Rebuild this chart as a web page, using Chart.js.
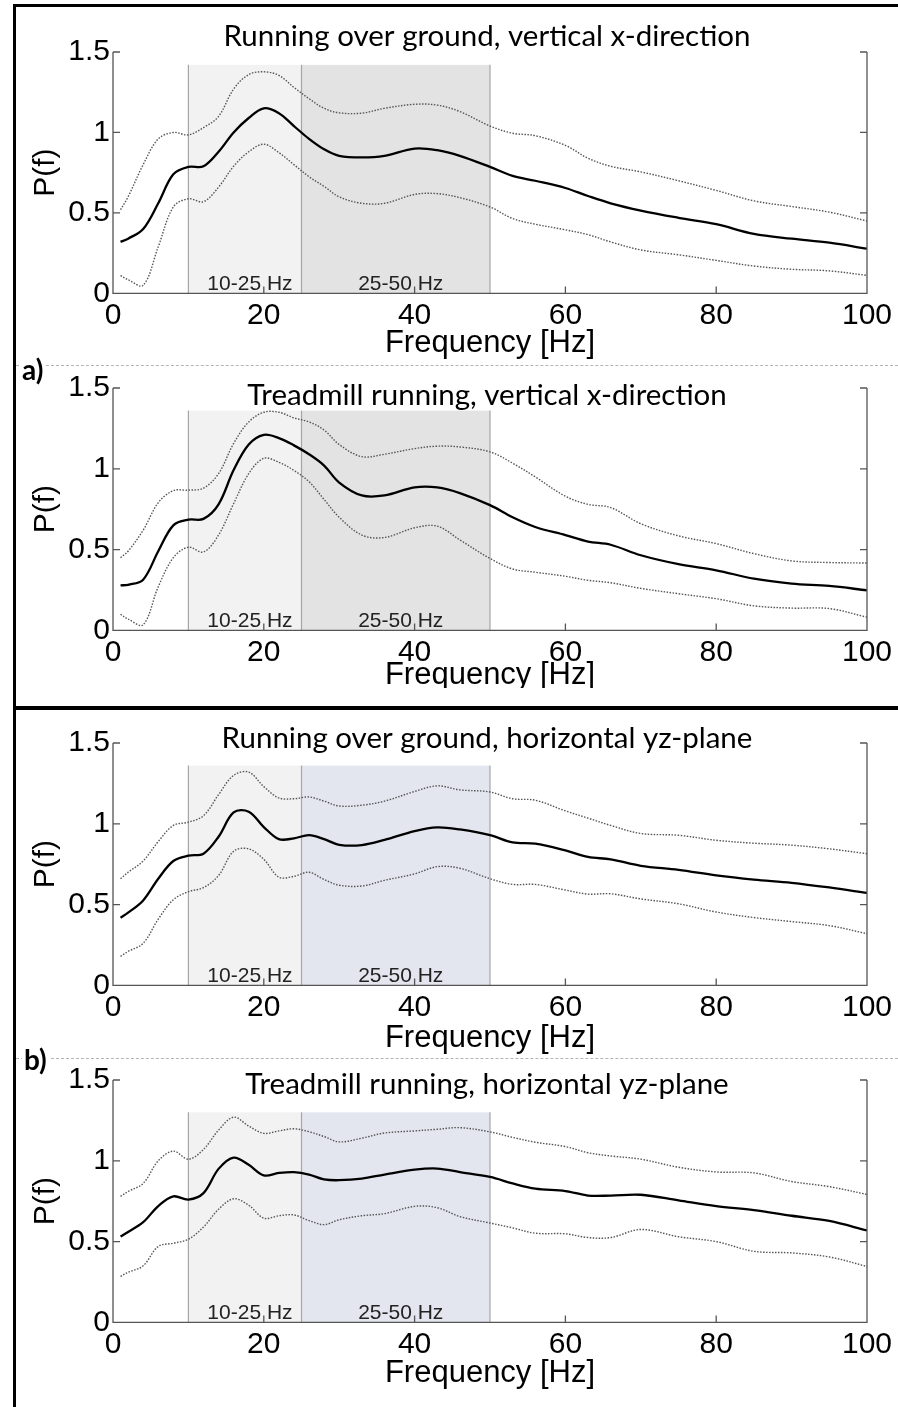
<!DOCTYPE html>
<html>
<head>
<meta charset="utf-8">
<title>P(f) spectra</title>
<script src="https://cdn.jsdelivr.net/npm/chart.js@4.4.1/dist/chart.umd.min.js"></script>
<style>
  html, body { margin: 0; padding: 0; background: #fff; }
  #page { position: relative; width: 898px; height: 1407px; overflow: hidden; background: #fff; }
  .wrap { position: absolute; left: 0; width: 898px; overflow: hidden; }
  .wrap canvas { position: absolute; left: 0; top: 0; }
  .rule { position: absolute; background: #000; }
  .dash { position: absolute; left: 16px; right: 0; height: 0; border-top: 1px dashed #b4b4b4; }
  .tag { position: absolute; font: bold 28px Lato, sans-serif; line-height: 28px; color: #000; background: #fff; padding: 0 2px; }
</style>
</head>
<body>
<div id="page">
  <div class="dash" style="top:365px"></div>
  <div class="dash" style="top:1058px"></div>
  <div class="tag" style="left:20px; top:355px">a)</div>
  <div class="tag" style="left:22px; top:1045px">b)</div>
</div>
<script>
// frequency grid shared by every curve [Hz]
const freq = [1, 2, 4, 6, 8, 10, 12, 14, 16, 18, 20, 22, 24, 26, 28, 30, 33, 36, 40, 43, 46, 50, 53, 56, 60, 63, 66, 70, 75, 80, 85, 90, 95, 100];

// running over ground, vertical x-direction
const ogXMean  = [0.32, 0.34, 0.40, 0.56, 0.74, 0.786, 0.79, 0.88, 1.0, 1.09, 1.15, 1.12, 1.04, 0.96, 0.895, 0.855, 0.845, 0.855, 0.90, 0.89, 0.855, 0.786, 0.73, 0.70, 0.655, 0.605, 0.56, 0.515, 0.47, 0.43, 0.37, 0.34, 0.315, 0.278];
const ogXUpper = [0.52, 0.60, 0.80, 0.96, 1.0, 0.985, 1.03, 1.10, 1.27, 1.36, 1.377, 1.355, 1.28, 1.21, 1.15, 1.122, 1.12, 1.15, 1.175, 1.17, 1.13, 1.04, 0.995, 0.98, 0.92, 0.84, 0.79, 0.755, 0.70, 0.64, 0.575, 0.54, 0.505, 0.45];
const ogXLower = [0.11, 0.085, 0.05, 0.29, 0.537, 0.588, 0.57, 0.66, 0.79, 0.88, 0.927, 0.875, 0.80, 0.725, 0.665, 0.60, 0.56, 0.56, 0.615, 0.62, 0.595, 0.537, 0.465, 0.43, 0.395, 0.365, 0.32, 0.27, 0.24, 0.205, 0.17, 0.15, 0.14, 0.112];

// treadmill running, vertical x-direction
const tmXMean  = [0.279, 0.282, 0.314, 0.49, 0.65, 0.685, 0.69, 0.78, 0.992, 1.15, 1.21, 1.19, 1.145, 1.09, 1.02, 0.915, 0.835, 0.835, 0.885, 0.885, 0.85, 0.775, 0.70, 0.64, 0.59, 0.55, 0.53, 0.465, 0.41, 0.372, 0.32, 0.29, 0.275, 0.248];
const tmXUpper = [0.45, 0.49, 0.62, 0.79, 0.865, 0.868, 0.88, 0.97, 1.157, 1.29, 1.35, 1.35, 1.315, 1.29, 1.24, 1.15, 1.075, 1.09, 1.125, 1.14, 1.135, 1.105, 1.035, 0.95, 0.83, 0.78, 0.76, 0.66, 0.585, 0.537, 0.475, 0.43, 0.42, 0.417];
const tmXLower = [0.10, 0.07, 0.035, 0.27, 0.45, 0.515, 0.485, 0.59, 0.785, 0.97, 1.065, 1.04, 0.99, 0.92, 0.81, 0.70, 0.59, 0.575, 0.635, 0.645, 0.56, 0.445, 0.38, 0.36, 0.335, 0.31, 0.295, 0.26, 0.227, 0.196, 0.152, 0.138, 0.135, 0.082];

// running over ground, horizontal yz-plane
const ogYzMean  = [0.419, 0.45, 0.526, 0.66, 0.77, 0.803, 0.815, 0.92, 1.07, 1.075, 0.98, 0.905, 0.91, 0.93, 0.905, 0.87, 0.868, 0.90, 0.955, 0.978, 0.965, 0.93, 0.885, 0.877, 0.835, 0.795, 0.78, 0.74, 0.715, 0.681, 0.655, 0.635, 0.606, 0.572];
const ogYzUpper = [0.66, 0.70, 0.77, 0.89, 0.99, 1.01, 1.05, 1.18, 1.30, 1.32, 1.23, 1.16, 1.155, 1.166, 1.14, 1.11, 1.115, 1.14, 1.20, 1.235, 1.21, 1.197, 1.155, 1.146, 1.08, 1.035, 0.99, 0.94, 0.929, 0.898, 0.88, 0.868, 0.845, 0.815];
const ogYzLower = [0.18, 0.21, 0.26, 0.41, 0.53, 0.58, 0.605, 0.68, 0.83, 0.845, 0.78, 0.67, 0.675, 0.70, 0.655, 0.62, 0.615, 0.65, 0.69, 0.735, 0.725, 0.66, 0.625, 0.625, 0.59, 0.565, 0.567, 0.535, 0.505, 0.454, 0.42, 0.395, 0.37, 0.32];

// treadmill running, horizontal yz-plane
const tmYzMean  = [0.532, 0.56, 0.62, 0.72, 0.78, 0.76, 0.80, 0.95, 1.02, 0.975, 0.91, 0.925, 0.93, 0.915, 0.885, 0.88, 0.89, 0.915, 0.945, 0.952, 0.93, 0.90, 0.86, 0.828, 0.813, 0.785, 0.785, 0.79, 0.755, 0.72, 0.695, 0.66, 0.628, 0.569];
const tmYzUpper = [0.78, 0.81, 0.86, 1.0, 1.06, 1.01, 1.07, 1.19, 1.27, 1.215, 1.17, 1.185, 1.198, 1.18, 1.15, 1.117, 1.14, 1.172, 1.185, 1.195, 1.205, 1.179, 1.145, 1.115, 1.088, 1.05, 1.03, 1.01, 0.96, 0.931, 0.925, 0.872, 0.84, 0.792];
const tmYzLower = [0.285, 0.31, 0.35, 0.47, 0.49, 0.515, 0.59, 0.70, 0.765, 0.725, 0.645, 0.66, 0.665, 0.63, 0.605, 0.635, 0.66, 0.673, 0.718, 0.71, 0.655, 0.615, 0.585, 0.552, 0.548, 0.525, 0.525, 0.575, 0.53, 0.50, 0.44, 0.43, 0.405, 0.346];

const titles = [
  'Running over ground, vertical x-direction',
  'Treadmill running, vertical x-direction',
  'Running over ground, horizontal yz-plane',
  'Treadmill running, horizontal yz-plane'
];
const series = [
  [ogXMean, ogXUpper, ogXLower],
  [tmXMean, tmXUpper, tmXLower],
  [ogYzMean, ogYzUpper, ogYzLower],
  [tmYzMean, tmYzUpper, tmYzLower]
];
const bandEdges = [10, 25, 50];
const bandLabels = ['10-25 Hz', '25-50 Hz'];
const shadeTop = [1.42, 1.36, 1.36, 1.30];

// page layout (pixels)
const plotTop = [52, 388, 743, 1080];
const plotBottom = [293, 630, 985, 1322];
const titleBase = [-6, 17, 5, 14];
const xTitleGap = [50, 45, 53, 51];
const clipBottom = [363, 688, 1056, 1407];
const band2Color = ['#e3e3e3', '#e3e3e3', '#e3e6ee', '#e3e6ee'];

const TOP_PAD = 50;
const page = document.getElementById('page');

const panelDecor = {
  id: 'panelDecor',
  beforeDatasetsDraw(chart, args, o) {
    const { ctx, chartArea: a, scales: { x, y } } = chart;
    const top = y.getPixelForValue(o.shadeTop);
    const px = bandEdges.map(v => x.getPixelForValue(v));
    ctx.save();
    ctx.fillStyle = '#f2f2f2';
    ctx.fillRect(px[0], top, px[1] - px[0], a.bottom - top);
    ctx.fillStyle = o.bandColor;
    ctx.fillRect(px[1], top, px[2] - px[1], a.bottom - top);
    ctx.strokeStyle = '#a6a6a6';
    ctx.lineWidth = 1.2;
    px.forEach(p => {
      ctx.beginPath();
      ctx.moveTo(p, top);
      ctx.lineTo(p, a.bottom);
      ctx.stroke();
    });
    ctx.fillStyle = '#222';
    ctx.font = '21px "Liberation Sans", Arial, sans-serif';
    ctx.textAlign = 'center';
    ctx.textBaseline = 'alphabetic';
    bandLabels.forEach((t, i) => ctx.fillText(t, (px[i] + px[i + 1]) / 2 + 5, a.bottom - 3));
    ctx.restore();
  },
  afterDatasetsDraw(chart, args, o) {
    const { ctx, chartArea: a, scales: { x, y } } = chart;
    ctx.save();
    ctx.strokeStyle = '#555';
    ctx.lineWidth = 1.3;
    ctx.beginPath();
    ctx.moveTo(a.left, a.top);
    ctx.lineTo(a.left, a.bottom);
    ctx.lineTo(a.right, a.bottom);
    ctx.lineTo(a.right, a.top);
    x.ticks.forEach(t => {
      const p = x.getPixelForValue(t.value);
      ctx.moveTo(p, a.bottom);
      ctx.lineTo(p, a.bottom - 7);
    });
    y.ticks.forEach(t => {
      const p = y.getPixelForValue(t.value);
      ctx.moveTo(a.left, p);
      ctx.lineTo(a.left + 7, p);
      ctx.moveTo(a.right, p);
      ctx.lineTo(a.right - 7, p);
    });
    ctx.stroke();
    ctx.fillStyle = '#000';
    ctx.font = '29.5px Lato, sans-serif';
    ctx.textAlign = 'center';
    ctx.textBaseline = 'alphabetic';
    ctx.fillText(o.title, (a.left + a.right) / 2 - 3, a.top + o.titleBase);
    ctx.restore();
  }
};

const tickFont = { family: '"Liberation Sans", Arial, sans-serif', size: 30 };

for (let i = 0; i < 4; i++) {
  const xH = xTitleGap[i] + 18.6;
  const canvasH = Math.round(TOP_PAD + (plotBottom[i] - plotTop[i]) + xH);
  const wrapTop = plotTop[i] - TOP_PAD;

  const wrap = document.createElement('div');
  wrap.className = 'wrap';
  wrap.style.top = wrapTop + 'px';
  wrap.style.height = Math.min(canvasH, clipBottom[i] - wrapTop) + 'px';
  const canvas = document.createElement('canvas');
  canvas.width = 898;
  canvas.height = canvasH;
  wrap.appendChild(canvas);
  page.insertBefore(wrap, page.firstChild);

  const [mean, upper, lower] = series[i];
  const toPoints = arr => freq.map((f, k) => ({ x: f, y: arr[k] }));

  new Chart(canvas.getContext('2d'), {
    type: 'line',
    data: {
      datasets: [
        { data: toPoints(upper), borderColor: '#555', borderWidth: 1.4, borderDash: [1.5, 1.5] },
        { data: toPoints(lower), borderColor: '#555', borderWidth: 1.4, borderDash: [1.5, 1.5] },
        { data: toPoints(mean), borderColor: '#000', borderWidth: 2.3 }
      ]
    },
    options: {
      responsive: false,
      animation: false,
      events: [],
      elements: { point: { radius: 0 }, line: { tension: 0.35 } },
      layout: { padding: { top: TOP_PAD, right: 31, left: 0, bottom: 0 } },
      plugins: {
        legend: { display: false },
        tooltip: { enabled: false },
        panelDecor: { title: titles[i], titleBase: titleBase[i], shadeTop: shadeTop[i], bandColor: band2Color[i] }
      },
      scales: {
        x: {
          type: 'linear', min: 0, max: 100,
          afterFit: s => { s.height = xH; },
          grid: { display: false, drawTicks: false, tickLength: 0 },
          border: { display: false },
          ticks: { stepSize: 20, padding: 4, color: '#000', font: tickFont, maxRotation: 0, autoSkip: false },
          title: { display: true, text: 'Frequency [Hz]', color: '#000', padding: 0,
                   font: { family: '"Liberation Sans", Arial, sans-serif', size: 31 } }
        },
        y: {
          min: 0, max: 1.5,
          afterFit: s => { s.width = 113; },
          grid: { display: false, drawTicks: false, tickLength: 0 },
          border: { display: false },
          ticks: { stepSize: 0.5, padding: 3, color: '#000', font: tickFont, callback: v => String(v) },
          title: { display: true, text: 'P(f)', color: '#000', padding: { top: 28, bottom: 0 }, font: tickFont }
        }
      }
    },
    plugins: [panelDecor]
  });
}

// figure frame
[
  { left: 13, top: 4, width: 885, height: 3 },
  { left: 13, top: 4, width: 3, height: 1403 },
  { left: 13, top: 706, width: 885, height: 4 }
].forEach(r => {
  const d = document.createElement('div');
  d.className = 'rule';
  Object.assign(d.style, { left: r.left + 'px', top: r.top + 'px', width: r.width + 'px', height: r.height + 'px' });
  page.appendChild(d);
});
</script>
</body>
</html>
